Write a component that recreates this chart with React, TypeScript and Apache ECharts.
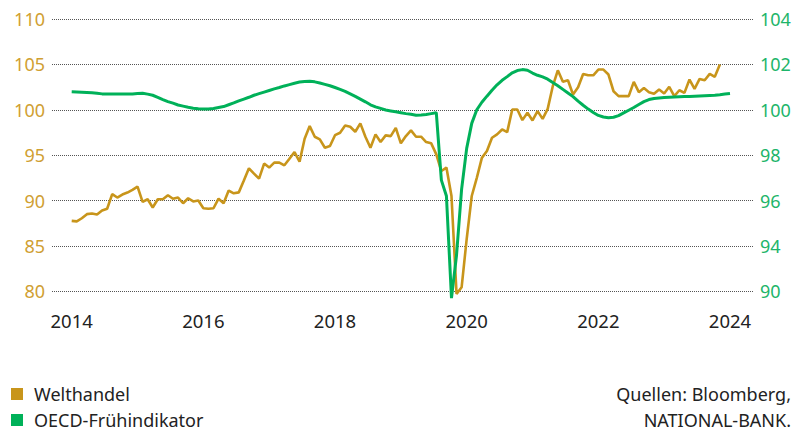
import React, { useEffect, useRef } from "react";
import * as echarts from "echarts";

// Monthly observations, Jan 2014 onward
const welthandel: number[] = [
  87.76, 87.7, 88.05, 88.5, 88.57, 88.46, 88.9, 89.1, 90.7, 90.33, 90.66, 90.88,
  91.17, 91.54, 89.85, 90.14, 89.23, 90.14, 90.14, 90.58, 90.2, 90.33, 89.7, 90.25,
  89.9, 90.0, 89.15, 89.1, 89.15, 90.2, 89.7, 91.1, 90.8, 90.9, 92.2, 93.55,
  92.97, 92.42, 94.07, 93.63, 94.18, 94.18, 93.88, 94.6, 95.34, 94.29, 96.81, 98.2,
  97.03, 96.74, 95.82, 96.0, 97.2, 97.47, 98.27, 98.13, 97.58, 98.5, 97.03, 95.82,
  97.29, 96.44, 97.18, 97.1, 98.0, 96.3, 97.1, 97.73, 97.03, 97.03, 96.44, 96.3,
  95.09, 93.25, 93.63, 90.5, 79.7, 80.44, 85.75, 90.5, 92.5, 94.7, 95.45, 96.92,
  97.29, 97.83, 97.54, 100.03, 100.03, 98.86, 99.67, 98.82, 99.85, 99.0, 100.1, 102.6,
  104.35, 103.08, 103.25, 101.68, 102.48, 103.95, 103.8, 103.8, 104.43, 104.43, 103.88, 102.04,
  101.5, 101.5, 101.5, 103.08, 101.94, 102.4, 101.94, 101.76, 102.23, 101.8, 102.53, 101.5,
  102.15, 101.86, 103.33, 102.3, 103.4, 103.25, 103.95, 103.63, 104.98,
];

const oecd: number[] = [
  100.79, 100.78, 100.77, 100.76, 100.75, 100.73, 100.7, 100.7, 100.7, 100.7, 100.7, 100.7,
  100.7, 100.72, 100.73, 100.69, 100.64, 100.55, 100.45, 100.36, 100.29, 100.21, 100.16, 100.11,
  100.07, 100.04, 100.03, 100.03, 100.06, 100.1, 100.14, 100.22, 100.3, 100.39, 100.47, 100.55,
  100.64, 100.71, 100.78, 100.85, 100.92, 100.98, 101.05, 101.11, 101.17, 101.22, 101.25, 101.26,
  101.23, 101.18, 101.12, 101.06, 100.98, 100.9, 100.81, 100.7, 100.59, 100.47, 100.35, 100.22,
  100.13, 100.06, 99.99, 99.95, 99.91, 99.87, 99.83, 99.8, 99.76, 99.77, 99.79, 99.83,
  99.87, 96.9, 96.2, 91.7, 93.6, 96.5, 98.3, 99.4, 100.0, 100.33, 100.6, 100.86,
  101.1, 101.3, 101.46, 101.63, 101.73, 101.77, 101.74, 101.62, 101.52, 101.45, 101.35, 101.2,
  101.06, 100.9, 100.74, 100.58, 100.38, 100.2, 100.03, 99.88, 99.75, 99.68, 99.65, 99.67,
  99.74, 99.86, 99.98, 100.1, 100.23, 100.36, 100.45, 100.5, 100.52, 100.54, 100.55, 100.56,
  100.57, 100.58, 100.59, 100.6, 100.61, 100.62, 100.63, 100.64, 100.66, 100.69, 100.72,
];

// x-axis labels (every 26th month, as in the source chart)
const xTickPositions: number[] = [0, 26, 52, 78, 104, 130];
const xTickLabels: string[] = ["2014", "2016", "2018", "2020", "2022", "2024"];

// right axis tick values and their printed labels
const rightTickValues: number[] = [92, 94, 96, 98, 100, 102, 104];
const rightTickLabels: string[] = ["90", "94", "96", "98", "100", "102", "104"];

const seriesNames: string[] = ["Welthandel", "OECD-Frühindikator"];
const sourceLines: string[] = ["Quellen: Bloomberg,", "NATIONAL-BANK."];

const GOLD = "#C8951B";
const GOLD_LABEL = "#D0A032";
const GREEN = "#00B159";
const GREEN_LABEL = "#1DB56A";
const FONT = "Noto Sans";
const ROW_Y = [394, 420];

export default function App() {
  const ref = useRef<HTMLDivElement>(null);

  useEffect(() => {
    document.body.style.margin = "0";
    if (!ref.current) return;
    const chart = echarts.init(ref.current, undefined, { renderer: "svg" });

    const option: any = {
      animation: false,
      textStyle: { fontFamily: FONT },
      grid: { left: 52, right: 54, top: 19, bottom: 141.7, containLabel: false },
      legend: seriesNames.map((name, i) => ({
        orient: "vertical",
        left: 11,
        top: ROW_Y[i] - 9,
        icon: "rect",
        itemWidth: 12,
        itemHeight: 12,
        padding: 0,
        selectedMode: false,
        textStyle: {
          fontSize: 18,
          lineHeight: 18,
          color: "#222",
          fontFamily: FONT,
          padding: [0, 0, 0, 6],
        },
        data: [name],
      })),
      xAxis: {
        type: "value",
        min: -3.89,
        max: 134.74,
        axisLine: { show: false },
        axisTick: { show: false },
        splitLine: { show: false },
        axisLabel: {
          customValues: xTickPositions,
          formatter: (v: number) => {
            const k = xTickPositions.indexOf(Math.round(v));
            return k >= 0 ? xTickLabels[k] : "";
          },
          fontSize: 18.5,
          color: "#222",
          margin: 20,
          fontFamily: FONT,
        },
      },
      yAxis: [
        {
          type: "value",
          min: 80,
          max: 110,
          interval: 5,
          position: "left",
          axisLine: { show: false },
          axisTick: { show: false },
          axisLabel: { fontSize: 18, color: GOLD_LABEL, margin: 7, fontFamily: FONT },
          splitLine: { show: true, lineStyle: { type: [1, 1], color: "#555", width: 1 } },
        },
        {
          type: "value",
          min: 92,
          max: 104,
          interval: 2,
          position: "right",
          axisLine: { show: false },
          axisTick: { show: false },
          splitLine: { show: false },
          axisLabel: {
            fontSize: 18,
            color: GREEN_LABEL,
            margin: 6,
            fontFamily: FONT,
            formatter: (v: number) => {
              const k = rightTickValues.indexOf(Math.round(v));
              return k >= 0 ? rightTickLabels[k] : String(v);
            },
          },
        },
      ],
      series: [
        {
          name: seriesNames[0],
          type: "line",
          yAxisIndex: 0,
          data: welthandel.map((v, i) => [i, v]),
          showSymbol: false,
          clip: false,
          lineStyle: { color: GOLD, width: 2.6 },
          itemStyle: { color: GOLD },
        },
        {
          name: seriesNames[1],
          type: "line",
          yAxisIndex: 1,
          data: oecd.map((v, i) => [i, v]),
          showSymbol: false,
          clip: false,
          lineStyle: { color: GREEN, width: 3 },
          itemStyle: { color: GREEN },
        },
      ],
      graphic: sourceLines.map((t, i) => ({
        type: "text",
        x: 791,
        y: ROW_Y[i],
        style: {
          text: t,
          font: `18px ${FONT}`,
          lineHeight: 18,
          fill: "#222",
          align: "right",
          verticalAlign: "middle",
        },
      })),
    };

    chart.setOption(option);
    return () => chart.dispose();
  }, []);

  return <div ref={ref} style={{ width: 808, height: 433 }} />;
}
